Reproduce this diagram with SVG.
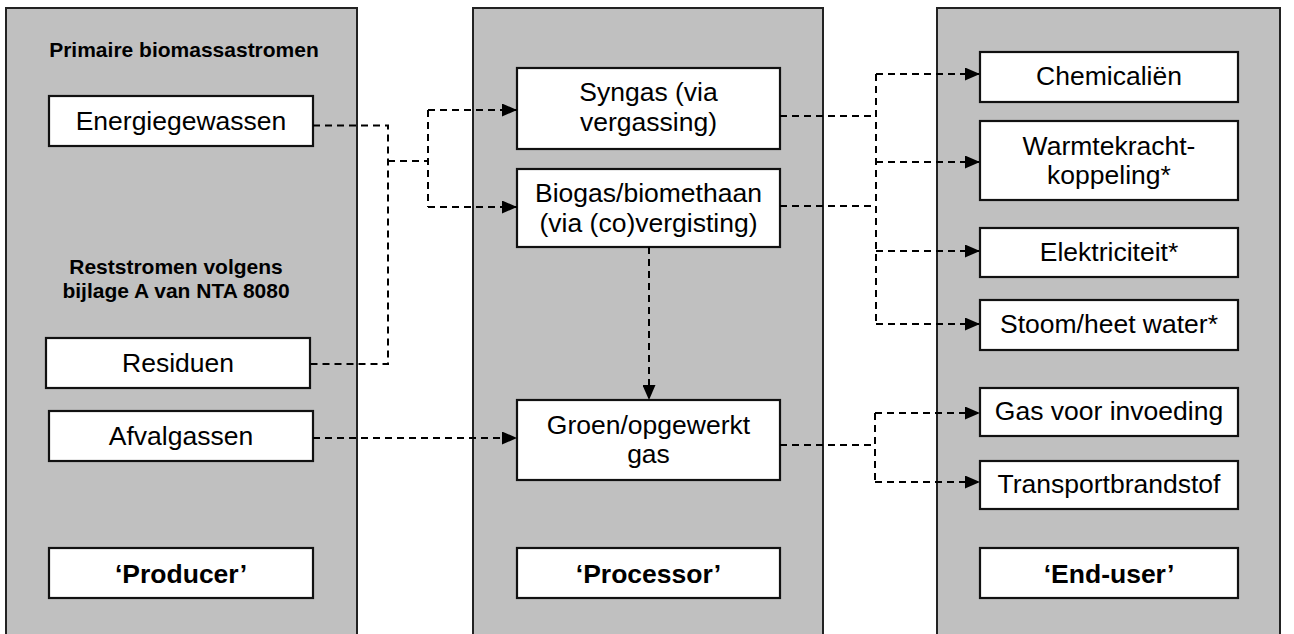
<svg xmlns="http://www.w3.org/2000/svg" width="1294" height="634" viewBox="0 0 1294 634">
<defs>
<style>
.panel{fill:#c0c0c0;stroke:#222;stroke-width:2}
.box{fill:#fff;stroke:#111;stroke-width:2.2}
.t{font-family:"Liberation Sans",Arial,sans-serif;font-size:26.5px;fill:#000;text-anchor:middle}
.b{font-weight:bold}
.h{font-family:"Liberation Sans",Arial,sans-serif;font-size:21px;font-weight:bold;fill:#000;text-anchor:middle}
.c{fill:none;stroke:#000;stroke-width:2;stroke-dasharray:7,5}
</style>
<marker id="arr" markerWidth="15" markerHeight="13" refX="15" refY="6.5" orient="auto" markerUnits="userSpaceOnUse">
<path d="M0,0 L15,6.5 L0,13 Z" fill="#000"/>
</marker>
</defs>
<rect width="1294" height="634" fill="#fff"/>
<g id="panel-producer"><rect class="panel" x="6" y="8" width="351" height="640"/>
<text class="h" x="184" y="57">Primaire biomassastromen</text>
<text class="h" x="176" y="274">Reststromen volgens</text>
<text class="h" x="176" y="298">bijlage A van NTA 8080</text></g>
<g id="panel-processor"><rect class="panel" x="473" y="8" width="350" height="640"/></g>
<g id="panel-enduser"><rect class="panel" x="937" y="8" width="343" height="640"/></g>

<g id="energiegewassen"><rect class="box" x="49" y="96" width="264" height="50"/><text class="t" x="181" y="130">Energiegewassen</text></g>
<g id="residuen"><rect class="box" x="46" y="338" width="264" height="50"/><text class="t" x="178" y="372">Residuen</text></g>
<g id="afvalgassen"><rect class="box" x="49" y="411" width="264" height="50"/><text class="t" x="181" y="445">Afvalgassen</text></g>
<g id="producer"><rect class="box" x="49" y="548" width="264" height="50"/><text class="t b" x="181" y="583">‘Producer’</text></g>

<g id="syngas"><rect class="box" x="517" y="68" width="263" height="81"/><text class="t" x="648.5" y="101">Syngas (via</text><text class="t" x="648.5" y="131">vergassing)</text></g>
<g id="biogas"><rect class="box" x="517" y="169" width="263" height="78"/><text class="t" x="648.5" y="202">Biogas/biomethaan</text><text class="t" x="648.5" y="232">(via (co)vergisting)</text></g>
<g id="groen"><rect class="box" x="517" y="400" width="263" height="80"/><text class="t" x="648.5" y="434">Groen/opgewerkt</text><text class="t" x="648.5" y="463">gas</text></g>
<g id="processor"><rect class="box" x="517" y="548" width="263" height="50"/><text class="t b" x="648.5" y="583">‘Processor’</text></g>

<g id="chemicalien"><rect class="box" x="980" y="52" width="258" height="50"/><text class="t" x="1109" y="85">Chemicaliën</text></g>
<g id="wkk"><rect class="box" x="980" y="121" width="258" height="79"/><text class="t" x="1109" y="155">Warmtekracht-</text><text class="t" x="1109" y="184">koppeling*</text></g>
<g id="elektriciteit"><rect class="box" x="980" y="228" width="258" height="49"/><text class="t" x="1109" y="261">Elektriciteit*</text></g>
<g id="stoom"><rect class="box" x="980" y="300" width="258" height="50"/><text class="t" x="1109" y="333">Stoom/heet water*</text></g>
<g id="gasinvoeding"><rect class="box" x="980" y="388" width="258" height="48"/><text class="t" x="1109" y="420">Gas voor invoeding</text></g>
<g id="transport"><rect class="box" x="980" y="461" width="258" height="48"/><text class="t" x="1109" y="493">Transportbrandstof</text></g>
<g id="enduser"><rect class="box" x="980" y="548" width="258" height="50"/><text class="t b" x="1109" y="583">‘End-user’</text></g>

<g id="connectors">
<path class="c" d="M313,125.5 H388 V364 H310"/>
<path class="c" d="M388,161 H428"/>
<path class="c" d="M428,110 V207"/>
<path class="c" d="M428,110 H517" marker-end="url(#arr)"/>
<path class="c" d="M428,207 H517" marker-end="url(#arr)"/>
<path class="c" d="M649,247 V400" marker-end="url(#arr)"/>
<path class="c" d="M313,438 H517" marker-end="url(#arr)"/>
<path class="c" d="M780,116 H876"/>
<path class="c" d="M780,206 H876"/>
<path class="c" d="M876,74 V324"/>
<path class="c" d="M876,74 H980" marker-end="url(#arr)"/>
<path class="c" d="M876,162 H980" marker-end="url(#arr)"/>
<path class="c" d="M876,251 H980" marker-end="url(#arr)"/>
<path class="c" d="M876,324 H980" marker-end="url(#arr)"/>
<path class="c" d="M780,445 H875"/>
<path class="c" d="M875,413 V482"/>
<path class="c" d="M875,413 H980" marker-end="url(#arr)"/>
<path class="c" d="M875,482 H980" marker-end="url(#arr)"/>
</g>
</svg>
